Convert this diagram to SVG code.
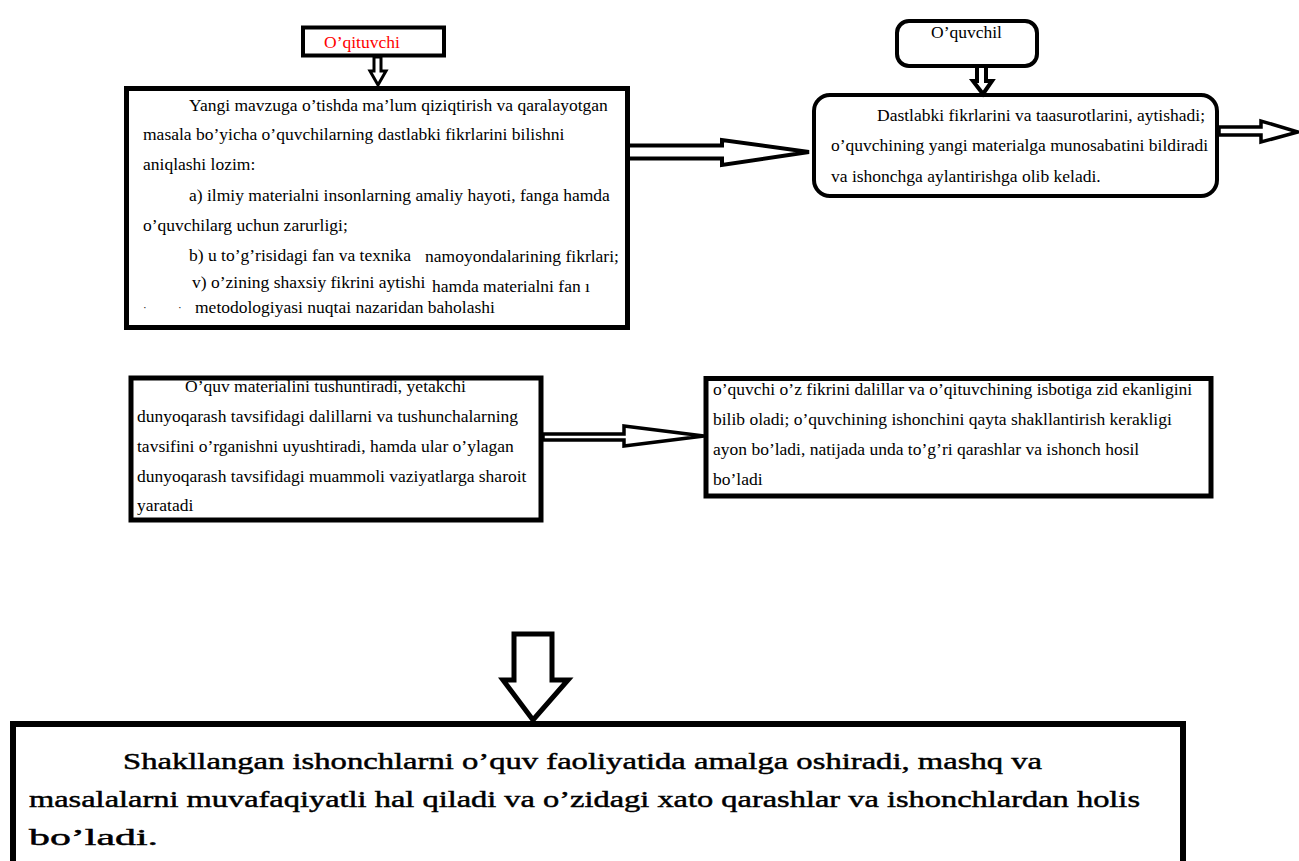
<svg xmlns="http://www.w3.org/2000/svg" width="1299" height="861" viewBox="0 0 1299 861">
  <style>
    .box { fill: #ffffff; stroke: #000000; }
    .t { font-family: "Liberation Serif", "Times New Roman", serif; font-size: 17.5px; fill: #000000; }
    .big { font-family: "Liberation Serif", "Times New Roman", serif; font-size: 23px; fill: #000000; stroke: #000000; stroke-width: 0.45px; }
    .arrow { fill: #ffffff; stroke: #000000; stroke-linejoin: miter; }
  </style>
  <rect width="1299" height="861" fill="#ffffff"/>

  <!-- teacher label -->
  <g id="teacher">
    <rect class="box" x="303" y="27.5" width="141" height="28" stroke-width="4"/>
    <text class="t" x="324" y="48" fill="#ff0000" style="fill:#ff0000">O’qituvchi</text>
  </g>

  <!-- teacher task box -->
  <g id="teacher-tasks">
    <rect class="box" x="126.5" y="88.5" width="501" height="239" stroke-width="5"/>
    <text class="t" x="189" y="110.5">Yangi mavzuga o’tishda ma’lum qiziqtirish va qaralayotgan</text>
    <text class="t" x="143" y="140">masala bo’yicha o’quvchilarning dastlabki fikrlarini bilishni</text>
    <text class="t" x="143" y="170">aniqlashi lozim:</text>
    <text class="t" x="189" y="201">a) ilmiy materialni insonlarning amaliy hayoti, fanga hamda</text>
    <text class="t" x="143" y="231">o’quvchilarg uchun zarurligi;</text>
    <text class="t" x="189" y="261">b) u to’g’risidagi</text>
    <text class="t" x="312" y="261">fan va texnika</text>
    <text class="t" x="425" y="262">namoyondalarining fikrlari;</text>
    <text class="t" x="192" y="288">v) o’zining shaxsiy fikrini aytishi</text>
    <text class="t" x="432" y="292">hamda materialni fan ı</text>
    <text class="t" x="143" y="311" style="font-size:11px">·</text>
    <text class="t" x="178" y="311" style="font-size:11px">·</text>
    <text class="t" x="195" y="313">metodologiyasi nuqtai nazaridan baholashi</text>
  </g>

  <!-- student label -->
  <g id="student">
    <rect class="box" x="897" y="21" width="140" height="45" rx="12" ry="12" stroke-width="4"/>
    <text class="t" x="931" y="38">O’quvchil</text>
  </g>

  <!-- student response box -->
  <g id="student-response">
    <rect class="box" x="814" y="95" width="403" height="101" rx="16" ry="16" stroke-width="4"/>
    <text class="t" x="877" y="121">Dastlabki fikrlarini va taasurotlarini, aytishadi;</text>
    <text class="t" x="831" y="151">o’quvchining yangi materialga munosabatini bildiradi</text>
    <text class="t" x="831" y="182">va ishonchga aylantirishga olib keladi.</text>
  </g>

  <!-- explanation box -->
  <g id="explanation">
    <rect class="box" x="131" y="378" width="410" height="142" stroke-width="5"/>
    <text class="t" x="185" y="392">O’quv materialini tushuntiradi, yetakchi</text>
    <text class="t" x="137" y="422">dunyoqarash tavsifidagi dalillarni va tushunchalarning</text>
    <text class="t" x="137" y="452">tavsifini o’rganishni uyushtiradi, hamda ular o’ylagan</text>
    <text class="t" x="137" y="482">dunyoqarash tavsifidagi muammoli vaziyatlarga sharoit</text>
    <text class="t" x="137" y="511">yaratadi</text>
  </g>

  <!-- realisation box -->
  <g id="realisation">
    <rect class="box" x="706" y="378.5" width="505" height="117.5" stroke-width="5"/>
    <text class="t" x="713" y="395">o’quvchi o’z fikrini dalillar va o’qituvchining isbotiga zid ekanligini</text>
    <text class="t" x="713" y="425">bilib oladi; o’quvchining ishonchini qayta shakllantirish kerakligi</text>
    <text class="t" x="713" y="455">ayon bo’ladi, natijada unda to’g’ri qarashlar va ishonch hosil</text>
    <text class="t" x="713" y="485">bo’ladi</text>
  </g>

  <!-- result box -->
  <g id="result">
    <rect class="box" x="13" y="724" width="1170" height="160" stroke-width="6"/>
    <text class="big" x="123" y="769" textLength="919" lengthAdjust="spacingAndGlyphs">Shakllangan ishonchlarni o’quv faoliyatida amalga oshiradi, mashq va</text>
    <text class="big" x="29" y="807" textLength="1111" lengthAdjust="spacingAndGlyphs">masalalarni muvafaqiyatli hal qiladi va o’zidagi xato qarashlar va ishonchlardan holis</text>
    <text class="big" x="29" y="845" textLength="129" lengthAdjust="spacingAndGlyphs">bo’ladi.</text>
  </g>

  <!-- block arrows -->
  <g id="connectors">
    <polygon class="arrow" stroke-width="3" points="374,57 374,71 370,71 378,85 386,71 381,71 381,57"/>
    <polygon class="arrow" stroke-width="4" points="977,66 977,81 973,81 983,94 992,81 986,81 986,66"/>
    <polygon class="arrow" stroke-width="4" points="628,145.5 722,145.5 722,140 809,152 722,165 722,158.5 628,158.5"/>
    <polygon class="arrow" stroke-width="3.5" points="1219,127 1261,127 1261,121 1298,132 1261,142 1261,135 1219,135"/>
    <polygon class="arrow" stroke-width="3.5" points="543,434 624,434 624,426 704,436 624,446 624,440 543,440"/>
    <polygon class="arrow" stroke-width="5" points="514,634 552,634 552,680 568,680 533,720 503,680 514,680"/>
  </g>
</svg>
